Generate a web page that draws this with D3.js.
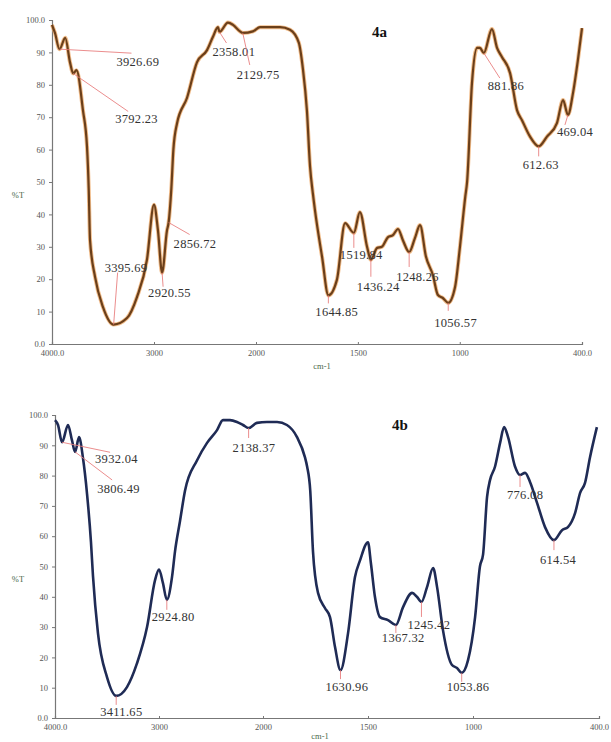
<!DOCTYPE html>
<html>
<head>
<meta charset="utf-8">
<script src="https://cdn.jsdelivr.net/npm/d3@7/dist/d3.min.js"></script>
<style>
  html, body { margin: 0; padding: 0; background: #fff; }
  svg { display: block; }
  .tick-label { font-family: "Liberation Serif", "DejaVu Serif", serif; font-size: 8.5px; fill: #555; }
  .peak-label { font-family: "Liberation Serif", "DejaVu Serif", serif; font-size: 12.5px; fill: #333; letter-spacing: 0.3px; }
  .panel-title { font-family: "Liberation Serif", "DejaVu Serif", serif; font-size: 15px; font-weight: bold; fill: #111; }
  .axis-title { font-family: "Liberation Serif", "DejaVu Serif", serif; font-size: 8.5px; fill: #4a6a4a; }
</style>
</head>
<body>
<svg id="chart" width="611" height="742"></svg>
<script>
// FTIR spectrum 4a: wavenumber (cm-1) and transmittance (%T)
const waveA = [4000, 3971, 3926.69, 3870, 3824, 3792.23, 3760, 3696, 3657, 3640, 3627, 3578, 3500, 3395.69,
  3265, 3167, 3069, 3000, 2961, 2920.55, 2873, 2856.72, 2830, 2810, 2775, 2676, 2578, 2480, 2422, 2373,
  2358.01, 2275, 2225, 2157, 2129.75, 2030, 1980, 1882, 1833, 1790, 1770, 1750, 1735, 1720, 1710, 1676,
  1644.85, 1603, 1563, 1519.84, 1490, 1455, 1436.24, 1406, 1382, 1352, 1328, 1303, 1279, 1248.26, 1220,
  1195, 1166, 1132, 1107, 1083, 1056.57, 1023, 999, 973, 964, 940, 915, 901, 881.86, 842, 817, 793, 753,
  719, 694, 655, 612.63, 572, 523, 493, 469.04, 444, 420, 400];
const transA = [98.5, 96, 91, 94.5, 87, 83.5, 84.5, 72, 61, 48, 32, 20.7, 11.4, 6,
  8, 14.5, 26, 43, 35, 22, 35, 37.5, 48, 60, 68, 76, 87, 90.7, 94.8, 97.8,
  96.3, 99.2, 98.5, 96.5, 96, 96.5, 97.8, 97.8, 97, 93, 85, 72, 55, 46, 41, 27,
  15, 19.8, 37.3, 34.3, 40.7, 30, 26, 29.6, 30, 33, 33.6, 35.5, 32, 28.4, 32.7,
  36.7, 27, 21.3, 15.1, 14.2, 12.7, 17.6, 30, 45.4, 50, 80.5, 91.4, 91.4, 89.8, 97.2, 91.4, 88.6, 83.6,
  72.2, 69, 64, 61, 64, 68.2, 75.3, 70.7, 77.5, 87.7, 97.5];

// FTIR spectrum 4b
const waveB = [4000, 3971, 3932.04, 3875, 3837, 3806.49, 3769, 3731, 3692, 3654, 3635, 3587, 3500, 3411.65,
  3308, 3212, 3115, 3038, 3000, 2962, 2924.80, 2875, 2846, 2798, 2750, 2635, 2538, 2442, 2385, 2317, 2250,
  2192, 2138.37, 2058, 1981, 1933, 1886, 1838, 1800, 1790, 1775, 1762, 1738, 1705, 1681, 1657, 1630.96,
  1595, 1562, 1538, 1500, 1486, 1467, 1443, 1405, 1367.32, 1333, 1290, 1267, 1245.42, 1219, 1190, 1171,
  1143, 1100, 1076, 1053.86, 1024, 990, 967, 952, 933, 919, 895, 871, 852, 833, 800, 776.08, 752, 729,
  695, 657, 614.54, 576, 548, 514, 490, 467, 443, 410];
const transB = [98.3, 96.7, 91, 96.7, 91.7, 87.8, 92.7, 85.8, 74, 58, 47, 28, 13.5, 7.3,
  10.2, 18, 30, 45.5, 49, 44.5, 39, 46.5, 55, 65, 75, 85, 90.8, 95, 98.3, 98.3, 97.7,
  96.7, 95.7, 97.4, 97.7, 97.7, 96.7, 92.7, 86, 83, 75, 55, 41.3, 36.3, 33.3, 23.4, 15.8,
  28, 46.5, 52, 58, 51, 40, 33.3, 32.3, 30.7, 36.6, 41.3, 40, 38.3, 43.2, 49.5, 43.2,
  29, 17.5, 16.5, 14.9, 19, 33.3, 50, 54, 73, 78.5, 83, 90.8, 96, 92.7, 83, 80.2, 80.9, 78,
  71, 63, 58.7, 62, 63, 67.6, 74.3, 77.5, 86, 96];

// Labelled band positions (cm-1)
const peaksA = [3926.69, 3792.23, 3395.69, 2920.55, 2856.72, 2358.01, 2129.75, 1644.85, 1519.84,
  1436.24, 1248.26, 1056.57, 881.86, 612.63, 469.04];
const peaksB = [3932.04, 3806.49, 3411.65, 2924.80, 2138.37, 1630.96, 1367.32, 1245.42, 1053.86,
  776.08, 614.54];

// Axis tick values and their printed labels
const xTicks = [4000, 3000, 2000, 1500, 1000, 400];
const xTickLabels = ["4000.0", "3000", "2000", "1500", "1000", "400.0"];
const yTicks = [0, 10, 20, 30, 40, 50, 60, 70, 80, 90, 100];
const yTickLabels = ["0.0", "10", "20", "30", "40", "50", "60", "70", "80", "90", "100.0"];

// Label placement per band: [leader dx, leader dy, text dx, text dy] from the band point
const layoutA = [[72, 4, 57, 17], [55, 38, 42, 50], [4, -52, -9, -53], [1, 14, -14, 24], [21, 12, 5, 25],
  [7, 11, -7, 24], [7, 32, -6, 46], [0, 8, -13, 21], [0, 15, -14, 26], [0, 17, -14, 31], [0, 15, -13, 29],
  [0, 8, -14, 24], [16, 25, 4, 37], [0, 10, -16, 23], [-3, 10, -11, 21]];
const layoutB = [[48, 10, 33, 21], [37, 28, 22, 41], [0, 9, -16, 20], [0, 10, -15, 21], [0, 10, -16, 24],
  [0, 9, -15, 21], [0, 8, -14, 17], [0, 15, -14, 27], [0, 9, -15, 18], [0, 12, -13, 24], [0, 10, -14, 24]];

const svg = d3.select("#chart");

function drawPanel(cfg) {
  const g = svg.append("g");
  // FTIR convention: the region above 2000 cm-1 is drawn at half scale
  const x = d3.scaleLinear().domain([4000, 2000, 400]).range(cfg.xRange);
  const y = d3.scaleLinear().domain([0, 100]).range(cfg.yRange);

  // y axis
  const yAxis = d3.axisLeft(y).tickValues(yTicks).tickSize(3)
    .tickFormat((d, i) => yTickLabels[i]);
  const ya = g.append("g").attr("transform", `translate(${cfg.xRange[0]},0)`).call(yAxis);
  ya.select(".domain").attr("stroke", "#777").attr("stroke-width", 1.2);
  ya.selectAll(".tick line").attr("stroke", "#777");
  ya.selectAll(".tick text").attr("class", "tick-label").attr("x", -7);

  // x axis
  const xAxis = d3.axisBottom(x).tickValues(xTicks).tickSize(-2)
    .tickFormat((d, i) => xTickLabels[i]);
  const xa = g.append("g").attr("transform", `translate(0,${cfg.yRange[0]})`).call(xAxis);
  xa.select(".domain").attr("stroke", "#777").attr("stroke-width", 1.2);
  xa.selectAll(".tick line").attr("stroke", "#777");
  xa.selectAll(".tick text").attr("class", "tick-label").attr("y", 6);

  g.append("text").attr("class", "axis-title")
    .attr("x", 18).attr("y", y(45)).attr("text-anchor", "middle").text("%T");
  g.append("text").attr("class", "axis-title")
    .attr("x", cfg.cmX).attr("y", cfg.cmY).attr("text-anchor", "middle").text("cm-1");

  g.append("text").attr("class", "panel-title")
    .attr("x", cfg.titleX).attr("y", cfg.titleY).text(cfg.title);

  const pts = cfg.wave.map((w, i) => [w, cfg.trans[i]]);
  const line = d3.line().x(d => x(d[0])).y(d => y(d[1])).curve(d3.curveMonotoneX);

  if (cfg.halo) {
    g.append("path").datum(pts).attr("d", line)
      .attr("fill", "none").attr("stroke", cfg.halo).attr("stroke-width", 4)
      .attr("stroke-linejoin", "round").attr("opacity", 0.7);
  }
  g.append("path").datum(pts).attr("d", line)
    .attr("fill", "none").attr("stroke", cfg.color).attr("stroke-width", cfg.halo ? 2.2 : 2.6)
    .attr("stroke-linejoin", "round");

  // band annotations
  cfg.peaks.forEach((p, i) => {
    const t = cfg.trans[cfg.wave.indexOf(p)];
    const px = x(p), py = y(t);
    const L = cfg.layout[i];
    g.append("line")
      .attr("x1", px).attr("y1", py).attr("x2", px + L[0]).attr("y2", py + L[1])
      .attr("stroke", "#e87a7a").attr("stroke-width", 1).attr("opacity", 0.85);
    g.append("text").attr("class", "peak-label")
      .attr("x", px + L[2]).attr("y", py + L[3]).text(p.toFixed(2));
  });
}

drawPanel({
  wave: waveA, trans: transA, peaks: peaksA, layout: layoutA,
  xRange: [52, 256, 582], yRange: [344, 20],
  color: "#6b3f1a", halo: "#eba15a",
  title: "4a", titleX: 372, titleY: 37, cmX: 322, cmY: 369
});

drawPanel({
  wave: waveB, trans: transB, peaks: peaksB, layout: layoutB,
  xRange: [55, 263, 599], yRange: [718, 415],
  color: "#1f2b55", halo: null,
  title: "4b", titleX: 392, titleY: 430, cmX: 320, cmY: 739
});
</script>
</body>
</html>
